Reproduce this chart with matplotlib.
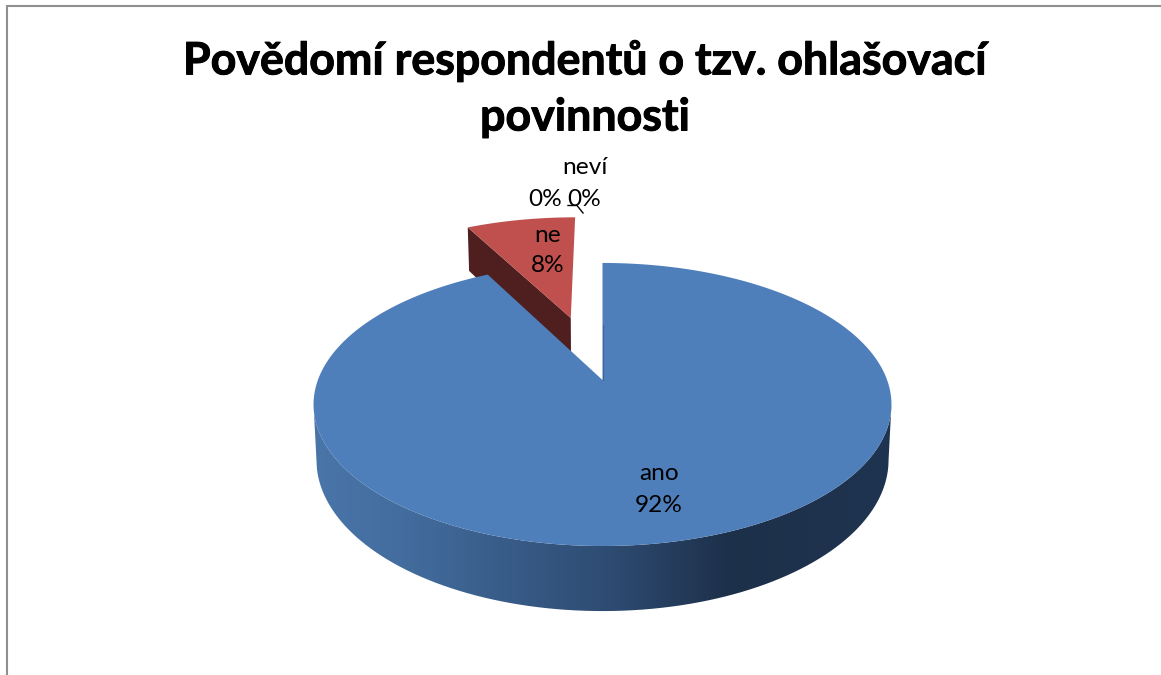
import numpy as np
import matplotlib
matplotlib.use("Agg")
import matplotlib.pyplot as plt
import matplotlib.patheffects as pe
from matplotlib.patches import Polygon, PathPatch
from matplotlib.path import Path
from matplotlib.colors import LinearSegmentedColormap

categories = ["ano", "ne", "neví", ""]
shares = [92.3, 7.7, 0.0, 0.0]
shown_pct = [92, 8, 0, 0]
title_lines = ["Povědomí respondentů o tzv. ohlašovací", "povinnosti"]

W, H = 1161, 675
fig = plt.figure(figsize=(W / 100, H / 100), dpi=100)
ax = fig.add_axes([0, 0, 1, 1])
ax.axis("off")

# perspective pie geometry (pixel canvas)
XC, YC, A, B, K, DEPTH, NARROW = 602.5, 380.0, 137.3, 284.6, 0.173, 53.8, 0.99
EXPLODE_NE = 0.505


def project(u, t, lower=False):
    w = 1 - K * np.asarray(t, float)
    x = B * np.asarray(u, float) / w
    y = YC + A * np.asarray(t, float) / w
    if lower:
        return XC + x * NARROW, y + DEPTH / w
    return XC + x, y


def unit(a):
    return np.sin(a), -np.cos(a)  # clockwise from the top; t>0 toward viewer


total = sum(shares)
frac = np.cumsum([0] + shares) / total * 2 * np.pi

BLUE, RED, DARK_RED = "#4e7fbb", "#bf504d", "#4e1f1e"

# side wall of the large slice
tm = np.arcsin(K)
th_side = np.linspace(np.pi / 2 + tm, 3 * np.pi / 2 - tm, 200)
us, ts = unit(th_side)
xa, ya = project(us, ts)
xb, yb = project(us, ts, lower=True)
side_xy = np.r_[np.c_[xa, ya], np.c_[xb, yb][::-1]]

# red slice: centre shifted along its bisector
mid = (frac[1] + frac[2]) / 2
ou, ot = np.array(unit(mid)) * EXPLODE_NE
th_red = np.linspace(frac[1], frac[2], 60)
ru, rt = unit(th_red)
rx, ry = project(ou + ru, ot + rt)
ax_, ay_ = project(ou, ot)
# inner cut face of the red slice
cx0, cy0 = project(ou + ru[0], ot + rt[0])
cx1, cy1 = project(ou + ru[0], ot + rt[0], lower=True)
ax2, ay2 = project(ou, ot, lower=True)
ax.add_patch(Polygon([(ax_, ay_), (cx0, cy0), (cx1, cy1), (ax2, ay2)], fc=DARK_RED, ec="none", zorder=2))
ax.add_patch(Polygon(np.r_[[[ax_, ay_]], np.c_[rx, ry]], fc=RED, ec="none", zorder=3))

# gradient side wall
cmap = LinearSegmentedColormap.from_list(
    "wall",
    [(0.0, "#4a75a9"), (0.15, "#436d9e"), (0.35, "#375a86"), (0.5, "#2f4d74"),
     (0.72, "#1d304a"), (1.0, "#1f3450")],
)
im = ax.imshow(np.linspace(0, 1, 300)[None, :], cmap=cmap, extent=[xa.min(), xa.max(), 640, 380],
               aspect="auto", zorder=4, interpolation="bilinear")
im.set_clip_path(PathPatch(Path(side_xy), transform=ax.transData))

# top of the large slice
th_blue = np.linspace(frac[0], frac[1], 360)
bu, bt = unit(th_blue)
bx, by = project(bu, bt)
px, py = project(0, 0)
ax.add_patch(Polygon(np.r_[[[px, py]], np.c_[bx, by]], fc=BLUE, ec="none", zorder=5))
ax.plot([px, px], [py, py - 55], color="#2f4d74", lw=0.8, alpha=0.5, zorder=6)

# labels
lab = dict(family=["Lato", "DejaVu Sans"], fontsize=17.6, color="black", ha="center", va="center", zorder=8)
ax.text(659, 473, categories[0], **lab)
ax.text(659, 505, f"{shown_pct[0]}%", **lab)
ax.text(548, 236, categories[1], **lab)
ax.text(548, 266, f"{shown_pct[1]}%", **lab)
ax.text(585, 168, categories[2], **lab)
ax.text(584, 199, f"{shown_pct[2]}%", **lab)
ax.text(545, 199, f"{shown_pct[3]}%", **lab)
ax.plot([568, 577, 583], [205.5, 205.5, 213], color="black", lw=1.0, zorder=7)

# title
ttl = dict(family=["Lato", "DejaVu Sans"], fontsize=32.2, fontweight="bold", color="black",
           ha="center", va="center", zorder=8,
           path_effects=[pe.withStroke(linewidth=0.7, foreground="black")])
ax.text(584.5, 60.5, title_lines[0], **ttl)
ax.text(585, 117.5, title_lines[1], **ttl)

# chart frame
ax.plot([6.5, 6.5, W], [H, 5.5, 5.5], color="#8f8f8f", lw=1.5, zorder=9, solid_joinstyle="miter")

ax.set_xlim(0, W)
ax.set_ylim(H, 0)
fig.savefig("out.png", dpi=100, facecolor="white")
